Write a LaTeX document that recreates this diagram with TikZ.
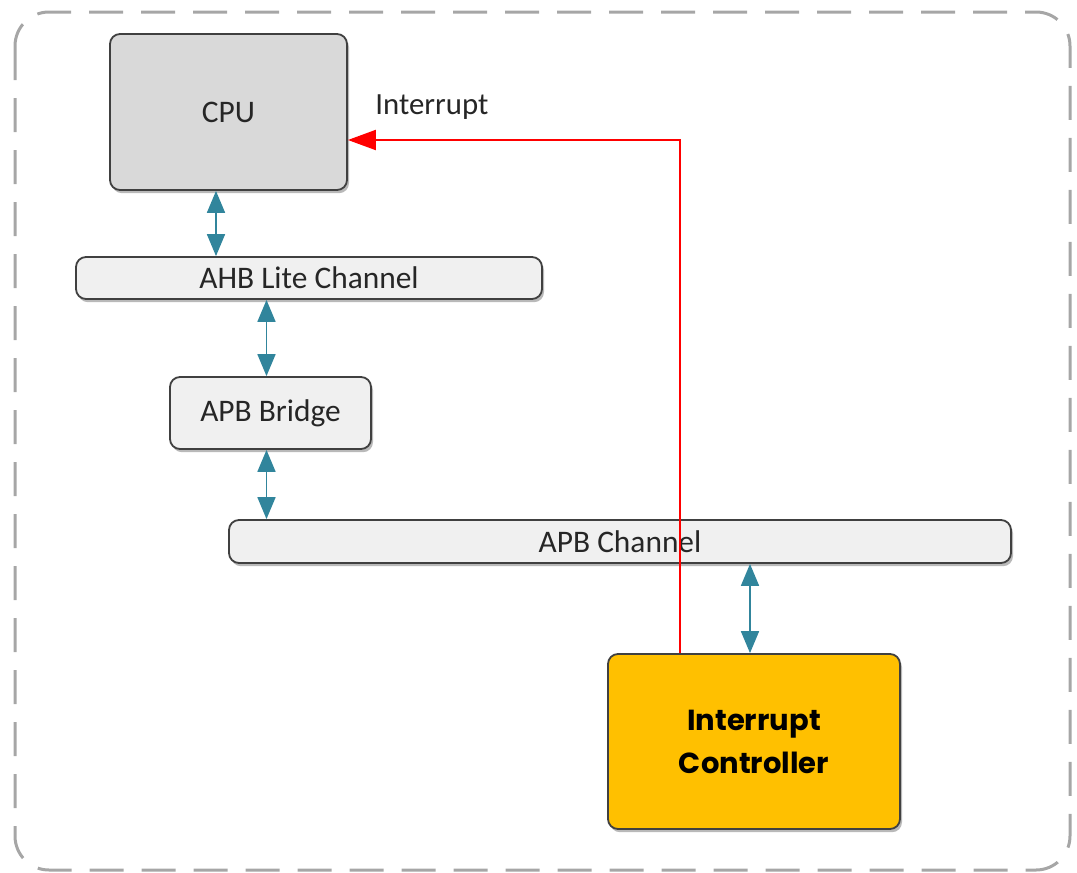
\documentclass[tikz,border=0pt]{standalone}
\usepackage{fontspec}
\setmainfont{Carlito}
\newfontfamily\icfont{Poppins}
\usetikzlibrary{arrows.meta,shadows}

\definecolor{txtgray}{HTML}{262626}
\definecolor{cpugray}{HTML}{D9D9D9}
\definecolor{busgray}{HTML}{F0F0F0}
\definecolor{icyellow}{HTML}{FFC000}
\definecolor{linkteal}{HTML}{31859C}
\definecolor{framegray}{HTML}{A6A6A6}

\tikzset{
    block/.style={draw=black!75, line width=0.9pt, rounded corners=5pt,
        text=txtgray, font=\fontsize{15.7}{19}\selectfont,
        drop shadow={shadow xshift=1pt, shadow yshift=-1.6pt, fill=black!50, opacity=.55}},
    link/.style={linkteal, line width=0.9pt,
        {Triangle[length=11pt,width=9pt]}-{Triangle[length=11pt,width=9pt]}},
    irq/.style={red, line width=1pt, -{Triangle[length=14pt,width=10pt]}}
}

\begin{document}
\begin{tikzpicture}[x=0.5pt, y=-0.5pt]
    \useasboundingbox (0,0) rectangle (1077,873);
    \draw[framegray, line width=1.5pt, dash pattern=on 17pt off 9pt, rounded corners=17pt]
        (15,12) rectangle (1070,870);

    \node[block, fill=cpugray, minimum width=118.5pt, minimum height=78pt] (cpu) at (228.5,112) {CPU};
    \node[block, fill=busgray, minimum width=233pt, minimum height=21pt] (ahb) at (309,278) {AHB Lite Channel};
    \node[block, fill=busgray, minimum width=100.5pt, minimum height=36pt] (bridge) at (270.5,413) {APB Bridge};
    \node[block, fill=busgray, minimum width=391pt, minimum height=21.5pt] (apb) at (620,541.5) {APB Channel};
    \node[block, fill=icyellow, minimum width=146pt, minimum height=87.5pt, align=center,
        text=black, font=\icfont\bfseries\fontsize{14.5}{21.5}\selectfont] (ic) at (754,741.5) {Interrupt\\Controller};

    \draw[link] ([xshift=-6.25pt]cpu.south) -- ([xshift=-6.25pt]cpu.south |- ahb.north);
    \draw[link] ([xshift=-2pt]bridge.north) -- ([xshift=-2pt]bridge.north |- ahb.south);
    \draw[link] ([xshift=-2pt]bridge.south) -- ([xshift=-2pt]bridge.south |- apb.north);
    \draw[link] ([xshift=-2pt]ic.north) -- ([xshift=-2pt]ic.north |- apb.south);

    \draw[irq] ([xshift=-37pt]ic.north) |- ([yshift=-14pt]cpu.east);
    \node[anchor=west, inner sep=0pt, text=txtgray, font=\fontsize{15.4}{19}\selectfont] (irqlabel) at (375,107) {Interrupt};
\end{tikzpicture}
\end{document}
